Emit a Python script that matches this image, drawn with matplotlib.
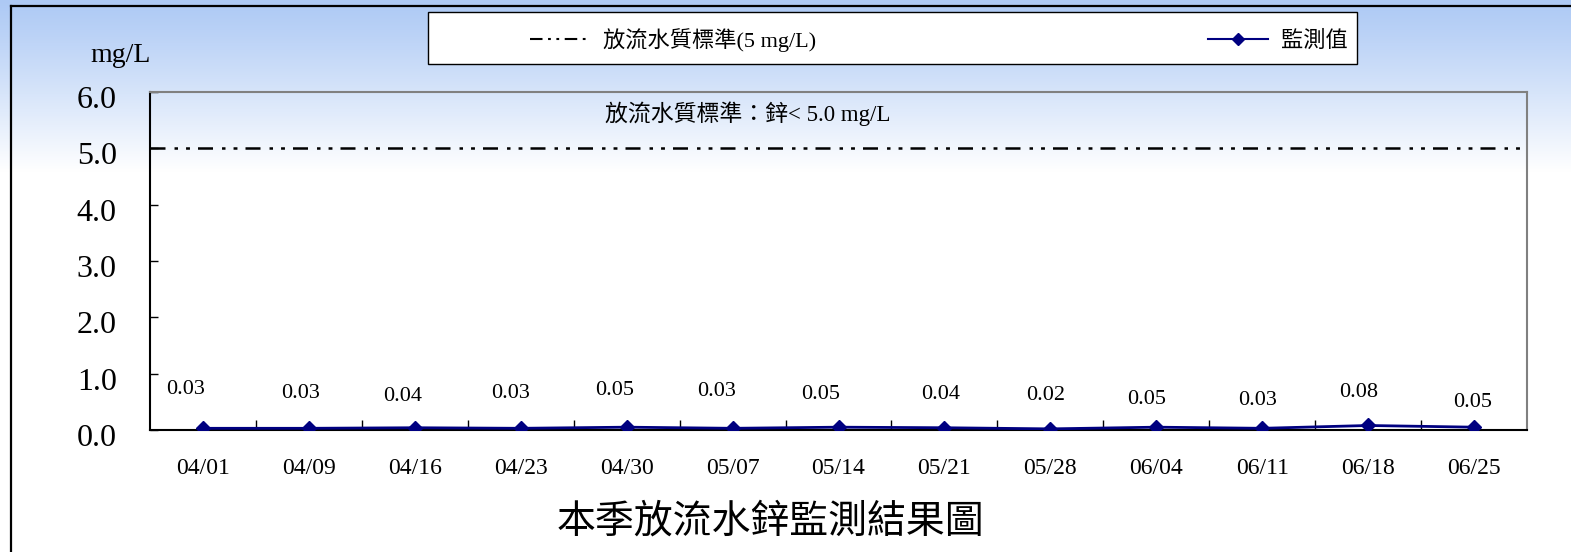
import numpy as np
import matplotlib.pyplot as plt
from matplotlib.lines import Line2D
from matplotlib.patches import Rectangle
from matplotlib.transforms import ScaledTranslation

plt.rcParams['font.family'] = ['Liberation Serif', 'Noto Sans CJK TC', 'DejaVu Sans']
plt.rcParams['lines.scale_dashes'] = False

# データ
dates = ["04/01", "04/09", "04/16", "04/23", "04/30", "05/07", "05/14",
         "05/21", "05/28", "06/04", "06/11", "06/18", "06/25"]
values = [0.03, 0.03, 0.04, 0.03, 0.05, 0.03, 0.05, 0.04, 0.02, 0.05, 0.03, 0.08, 0.05]
limit = 5.0
yticks = [0.0, 1.0, 2.0, 3.0, 4.0, 5.0, 6.0]

# ラベル位置のずれ (pixel)
label_dx = [-17, -8, -12, -10, -12, -16, -18, -4, -5, -10, -5, -9, -1]
label_dy = [39, 35, 31, 35, 37, 37, 33, 33, 33, 28, 28, 33, 25]

W, H = 1571, 552
fig = plt.figure(figsize=(W / 100, H / 100), dpi=100)
fig.patch.set_facecolor('white')

# 背景のグラデーション
bg = fig.add_axes([0, 0, 1, 1], zorder=-5)
t = np.linspace(0, 1, 300)[:, None]
top = np.array([0.68, 0.79, 0.96])
k = np.clip(t / 0.31, 0, 1) ** 1.1
grad = top * (1 - k[..., None]) + np.ones(3) * k[..., None]
grad = np.repeat(grad, 2, axis=1)
bg.imshow(grad, aspect='auto', extent=(0, 1, 0, 1), origin='upper')
bg.set_xlim(0, 1)
bg.set_ylim(0, 1)
bg.axis('off')

# 外枠
fig.add_artist(Line2D([11 / W, 11 / W], [0, 1 - 6 / H], color='black', lw=1.6,
                      transform=fig.transFigure))
fig.add_artist(Line2D([11 / W, 1], [1 - 6 / H, 1 - 6 / H], color='black', lw=1.6,
                      transform=fig.transFigure))

ax = fig.add_axes([150 / W, 1 - 430 / H, (1527 - 150) / W, (430 - 92) / H])
ax.set_facecolor('none')

x = np.arange(len(dates))
dash = (0, (10.8, 6.5, 2.5, 5.8, 2.8, 5.8))
ax.axhline(limit, color='black', lw=1.8, linestyle=dash)
ax.plot(x, values, color='#000080', lw=2, marker='D', markersize=6.8, zorder=5)

for i, v in enumerate(values):
    ax.annotate(f"{v:.2f}", (x[i], v), xytext=(label_dx[i], label_dy[i]),
                textcoords='offset pixels', ha='center', va='center', fontsize=16)

ax.set_xlim(-0.5, len(dates) - 0.5)
ax.set_ylim(0, 6)
ax.set_xticks(x)
ax.set_xticklabels(dates, fontsize=17)
ax.set_xticks(np.arange(0.5, len(dates) - 1, 1), minor=True)
ax.tick_params(axis='x', which='major', length=0, pad=20)
ax.tick_params(axis='x', which='minor', direction='in', length=7, width=1)
ax.set_yticks(yticks)
ax.set_yticklabels([f"{v:.1f}" for v in yticks], fontsize=23)
ax.tick_params(axis='y', direction='in', length=6, width=1, pad=24)
for lab in ax.get_yticklabels():
    lab.set_transform(lab.get_transform() + ScaledTranslation(0, -0.05, fig.dpi_scale_trans))

for s in ['left', 'bottom']:
    ax.spines[s].set_color('black')
    ax.spines[s].set_linewidth(1.5)
for s in ['top', 'right']:
    ax.spines[s].set_color('#808080')
    ax.spines[s].set_linewidth(1.5)

fig.text(748 / W, 1 - 114 / H, "放流水質標準：鋅< 5.0 mg/L",
         ha='center', va='center', fontsize=16.5)

fig.text(121 / W, 1 - 56 / H, "mg/L", ha='center', va='center', fontsize=20)
fig.text(770 / W, 1 - 523 / H, "本季放流水鋅監測結果圖", ha='center', va='center',
         fontsize=28)

# 凡例
fig.add_artist(Rectangle((428 / W, 1 - 64 / H), (1357 - 428) / W, 52 / H,
                         transform=fig.transFigure, facecolor='white',
                         edgecolor='black', lw=1, zorder=1))
h1 = Line2D([], [], color='black', lw=1.5, linestyle=(0, (9, 4, 2, 4, 2, 4)))
h2 = Line2D([], [], color='#000080', lw=1.5, marker='D', markersize=6.5)
leg = fig.legend([h1, h2], ["放流水質標準(5 mg/L)", "監測值"], ncol=2,
                 loc='center left', bbox_to_anchor=(530 / W, 1 - 40 / H),
                 frameon=False, fontsize=16, handlelength=2.7, borderpad=0,
                 borderaxespad=0, handletextpad=0.6, columnspacing=17.6)
leg.set_zorder(2)

plt.savefig("out.png", dpi=100)
